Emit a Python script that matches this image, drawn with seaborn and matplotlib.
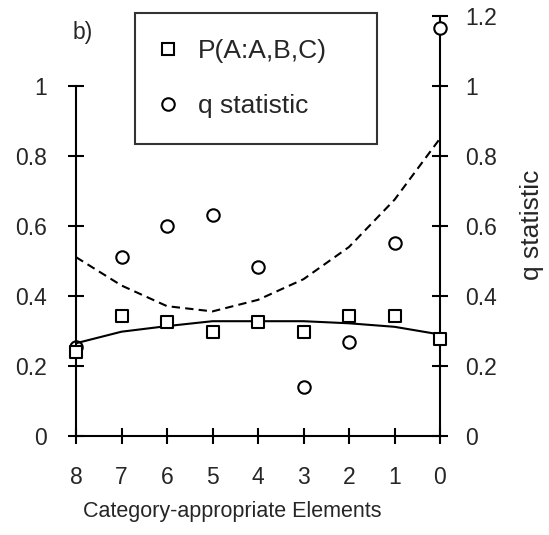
import matplotlib
matplotlib.use("Agg")
import matplotlib.pyplot as plt
import seaborn as sns
from matplotlib.lines import Line2D

# data
elements = [8, 7, 6, 5, 4, 3, 2, 1, 0]
p_abc = [0.24, 0.343, 0.327, 0.298, 0.327, 0.298, 0.343, 0.343, 0.276]
q_stat = [0.255, 0.512, 0.601, 0.631, 0.484, 0.141, 0.268, 0.551, 1.166]
p_trend = [0.265, 0.298, 0.314, 0.328, 0.328, 0.328, 0.322, 0.312, 0.29]
q_trend = [0.511, 0.43, 0.371, 0.356, 0.389, 0.448, 0.54, 0.675, 0.85]

left_ticks = [0, 0.2, 0.4, 0.6, 0.8, 1]
right_ticks = [0, 0.2, 0.4, 0.6, 0.8, 1, 1.2]

sns.set_style("ticks")
plt.rcParams['font.family'] = ['Liberation Sans', 'DejaVu Sans']

fig = plt.figure(figsize=(5.49, 5.35), dpi=100)
ax = fig.add_axes([76 / 549, 99 / 535, 364 / 549, 420 / 535])
ax2 = ax.twinx()
# squares sit on top of the circles
ax.set_zorder(ax2.get_zorder() + 1)

lw = 1.5
sns.lineplot(x=elements, y=p_trend, ax=ax, color="black", lw=lw, sort=False)
sns.lineplot(x=elements, y=q_trend, ax=ax2, color="black", lw=lw, sort=False,
             ls=(0, (4, 2.5)))
sns.scatterplot(x=elements, y=p_abc, ax=ax, marker="s", s=80, facecolor="white",
                edgecolor="black", linewidth=lw, clip_on=False, zorder=5)
sns.scatterplot(x=elements, y=q_stat, ax=ax2, marker="o", s=80, facecolor="white",
                edgecolor="black", linewidth=lw, clip_on=False, zorder=5)

for a in (ax, ax2):
    a.set_xlim(8, 0)
    a.set_ylim(0, 1.2)
    a.set_xlabel("")
    a.set_ylabel("")
    a.patch.set_visible(False)
    for s in a.spines.values():
        s.set_linewidth(lw)
        s.set_color("black")
    a.spines["top"].set_visible(False)

ax.spines["right"].set_visible(False)
ax2.spines["left"].set_visible(False)
ax2.spines["bottom"].set_visible(False)
ax.spines["left"].set_bounds(0, 1)
ax2.spines["right"].set_bounds(0, 1.2)

ax.set_xticks(elements)
ax.set_xticklabels([str(e) for e in elements])
ax.set_yticks(left_ticks)
ax.set_yticklabels(["0", "0.2", "0.4", "0.6", "0.8", "1"])
ax2.set_yticks(right_ticks)
ax2.set_yticklabels(["0", "0.2", "0.4", "0.6", "0.8", "1", "1.2"])

ax.tick_params(axis="y", direction="inout", length=12, width=lw, color="black",
               labelsize=16.5, pad=15)
ax.tick_params(axis="x", direction="inout", length=11, width=lw, color="black",
               labelsize=16.5, pad=16)
ax2.tick_params(axis="y", direction="inout", length=12, width=lw, color="black",
                labelsize=16.5, pad=12)

handles = [
    Line2D([], [], marker="s", ls="none", markersize=9, markerfacecolor="white",
           markeredgecolor="black", markeredgewidth=lw),
    Line2D([], [], marker="o", ls="none", markersize=9, markerfacecolor="white",
           markeredgecolor="black", markeredgewidth=lw),
]
leg = fig.legend(handles, ["P(A:A,B,C)", "q statistic"], loc="upper left",
                 bbox_to_anchor=(135 / 549, 1 - 142 / 535, 242 / 549, 129 / 535),
                 mode="expand", fontsize=19,
                 frameon=True, fancybox=False, edgecolor="black",
                 labelspacing=1.15, handletextpad=0.87, borderpad=1.0,
                 borderaxespad=0, handlelength=0.53)
leg.get_frame().set_linewidth(lw)

fig.text(83 / 549, 1 - 33 / 535, "b)", fontsize=16.5, ha="center", va="center")
fig.text(232 / 549, 1 - 512 / 535, "Category-appropriate Elements", fontsize=15.5,
         ha="center", va="center")
fig.text(532 / 549, 1 - 225 / 535, "q statistic", fontsize=19, rotation=90,
         ha="center", va="center")

fig.savefig("out.png", dpi=100)
